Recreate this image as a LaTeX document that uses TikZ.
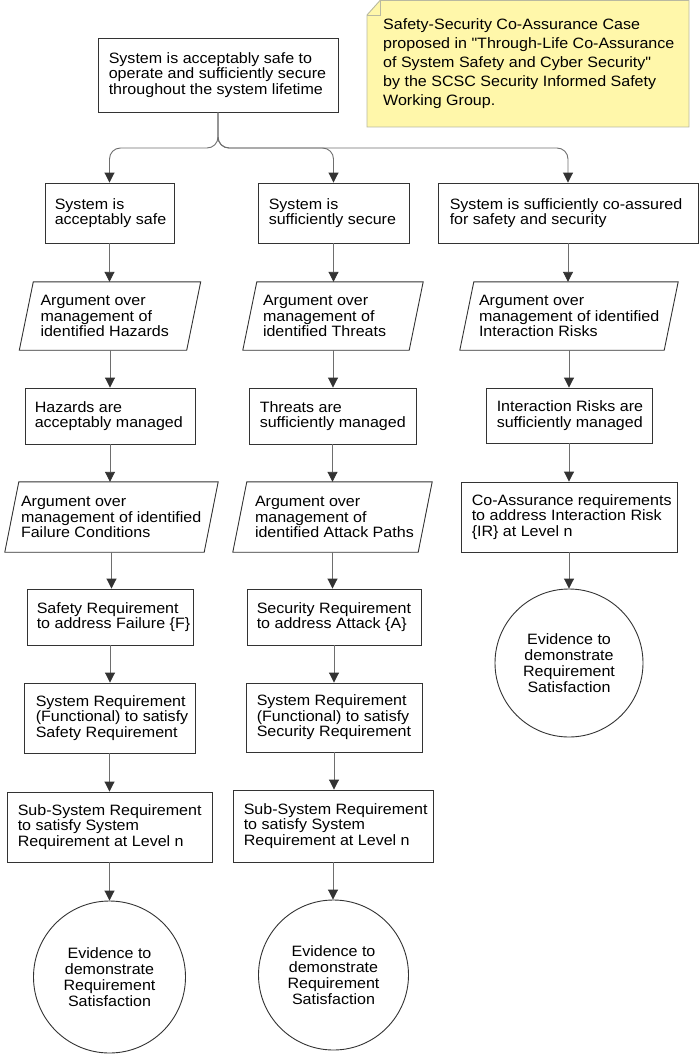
\documentclass[tikz,border=0pt]{standalone}
\usepackage{fontspec}
\setmainfont{Liberation Sans}[FakeStretch=1.07, Ligatures=TeXOff]
\usetikzlibrary{arrows.meta,calc}
\definecolor{bordc}{RGB}{51,51,51}
\definecolor{linec}{RGB}{110,110,110}
\definecolor{notefill}{RGB}{255,247,170}
\definecolor{notedraw}{RGB}{185,185,160}
\newcommand\gbox[7]{%
  \node[boxframe, minimum width=#4pt, minimum height=#5pt] (#1) at (#2,#3) {};
  \node[txt, anchor=west] (#1-t) at ([xshift=#6pt]#1.west) {#7};}
\newcommand\gpara[7]{%
  \node[paraframe, minimum width=#4pt, minimum height=#5pt] (#1) at (#2,#3) {};
  \draw[draw=bordc, line width=0.9pt, fill=white]
    ([xshift=7pt]#1.north west) -- ([xshift=7pt]#1.north east) --
    ([xshift=-7pt]#1.south east) -- ([xshift=-7pt]#1.south west) -- cycle;
  \node[txt, anchor=west] (#1-t) at ([xshift=#6pt]#1.west) {#7};}
\newcommand\dq{\symbol{34}}
\begin{document}
\begin{tikzpicture}[x=1pt,y=-1pt,
  txt/.style={font=\fontsize{15}{15.5}\selectfont, inner sep=0pt, align=left},
  boxframe/.style={draw=bordc, line width=0.9pt, fill=white, inner sep=0pt},
  paraframe/.style={inner sep=0pt},
  evid/.style={draw=bordc, line width=0.9pt, circle, fill=white, align=center, inner sep=0pt,
    font=\fontsize{15}{16}\selectfont},
  conn/.style={draw=linec, line width=0.9pt, -{Triangle[width=10pt,length=10pt,color=bordc]}}
]
\useasboundingbox (0,0) rectangle (700,1054);

% note
\path[draw=notedraw, fill=notefill, line width=0.9pt]
  (367,15) -- (380,0.5) -- (689,0.5) -- (689,127) -- (367,127) -- cycle;
\draw[notedraw, line width=0.9pt] (367,15) -- (380,15) -- (380,0.5);
\node[anchor=west, inner sep=0pt, align=left, font=\fontsize{15}{19}\selectfont] (note) at (383,64)
  {Safety-Security Co-Assurance Case\\proposed in \dq Through-Life Co-Assurance\\of System Safety and Cyber Security\dq\\by the SCSC Security Informed Safety\\Working Group.};

% top goal
\gbox{top}{218}{75}{240}{74}{11}{System is acceptably safe to\\operate and sufficiently secure\\throughout the system lifetime}

% row 1
\gbox{a1}{109.5}{213}{129}{60}{10}{System is\\acceptably safe}
\gbox{b1}{333.5}{213}{151}{60}{11}{System is\\sufficiently secure}
\gbox{c1}{568}{213}{260}{60}{12}{System is sufficiently co-assured\\for safety and security}

% row 2
\gpara{a2}{110}{316}{167}{68}{14}{Argument over\\management of\\identified Hazards}
\gpara{b2}{333}{316}{166}{68}{13}{Argument over\\management of\\identified Threats}
\gpara{c2}{569}{316}{204}{68}{12}{Argument over\\management of identified\\Interaction Risks}

% row 3
\gbox{a3}{110}{416}{170}{56}{10}{Hazards are\\acceptably managed}
\gbox{b3}{332.5}{416}{167}{56}{11}{Threats are\\sufficiently managed}
\gbox{c3}{569}{415.5}{166}{55}{11}{Interaction Risks are\\sufficiently managed}

% row 4
\gpara{a4}{111.5}{517}{199}{70}{9}{Argument over\\management of identified\\Failure Conditions}
\gpara{b4}{332.5}{517}{185}{70}{15}{Argument over\\management of\\identified Attack Paths}
\gbox{c4}{569}{517}{216}{70}{11}{Co-Assurance requirements\\to address Interaction Risk\\\{IR\} at Level n}

% row 5
\gbox{a5}{110}{617}{166}{56}{10}{Safety Requirement\\to address Failure \{F\}}
\gbox{b5}{334}{617}{174}{56}{10}{Security Requirement\\to address Attack \{A\}}
\node[evid, minimum size=148pt] (c5) at (569,663) {Evidence to\\demonstrate\\Requirement\\Satisfaction};

% row 6
\gbox{a6}{109.5}{718}{171}{70}{12}{System Requirement\\(Functional) to satisfy\\Safety Requirement}
\gbox{b6}{334}{717.5}{176}{69}{11}{System Requirement\\(Functional) to satisfy\\Security Requirement}

% row 7
\gbox{a7}{109.5}{827}{205}{70}{11}{Sub-System Requirement\\to satisfy System\\Requirement at Level n}
\gbox{b7}{333}{826}{200}{72}{11}{Sub-System Requirement\\to satisfy System\\Requirement at Level n}

% row 8
\node[evid, minimum size=152pt] (a8) at (109.5,977) {Evidence to\\demonstrate\\Requirement\\Satisfaction};
\node[evid, minimum size=150pt] (b8) at (333.5,975) {Evidence to\\demonstrate\\Requirement\\Satisfaction};

% split connectors
\coordinate (split) at (218,148);
\draw[conn, rounded corners=11pt] (top.south) -- (top.south |- split) -| (a1.north);
\draw[conn, rounded corners=11pt] (top.south) -- (top.south |- split) -| (b1.north);
\draw[conn, rounded corners=11pt] (top.south) -- (top.south |- split) -| (c1.north);

% column connectors
\foreach \u/\v in {a1/a2,a2/a3,a3/a4,a4/a5,a5/a6,a6/a7,a7/a8,
                   b1/b2,b2/b3,b3/b4,b4/b5,b5/b6,b6/b7,b7/b8,
                   c1/c2,c2/c3,c3/c4,c4/c5}
  \draw[conn] (\u.south) -- (\u.south |- \v.north);
\end{tikzpicture}
\end{document}
